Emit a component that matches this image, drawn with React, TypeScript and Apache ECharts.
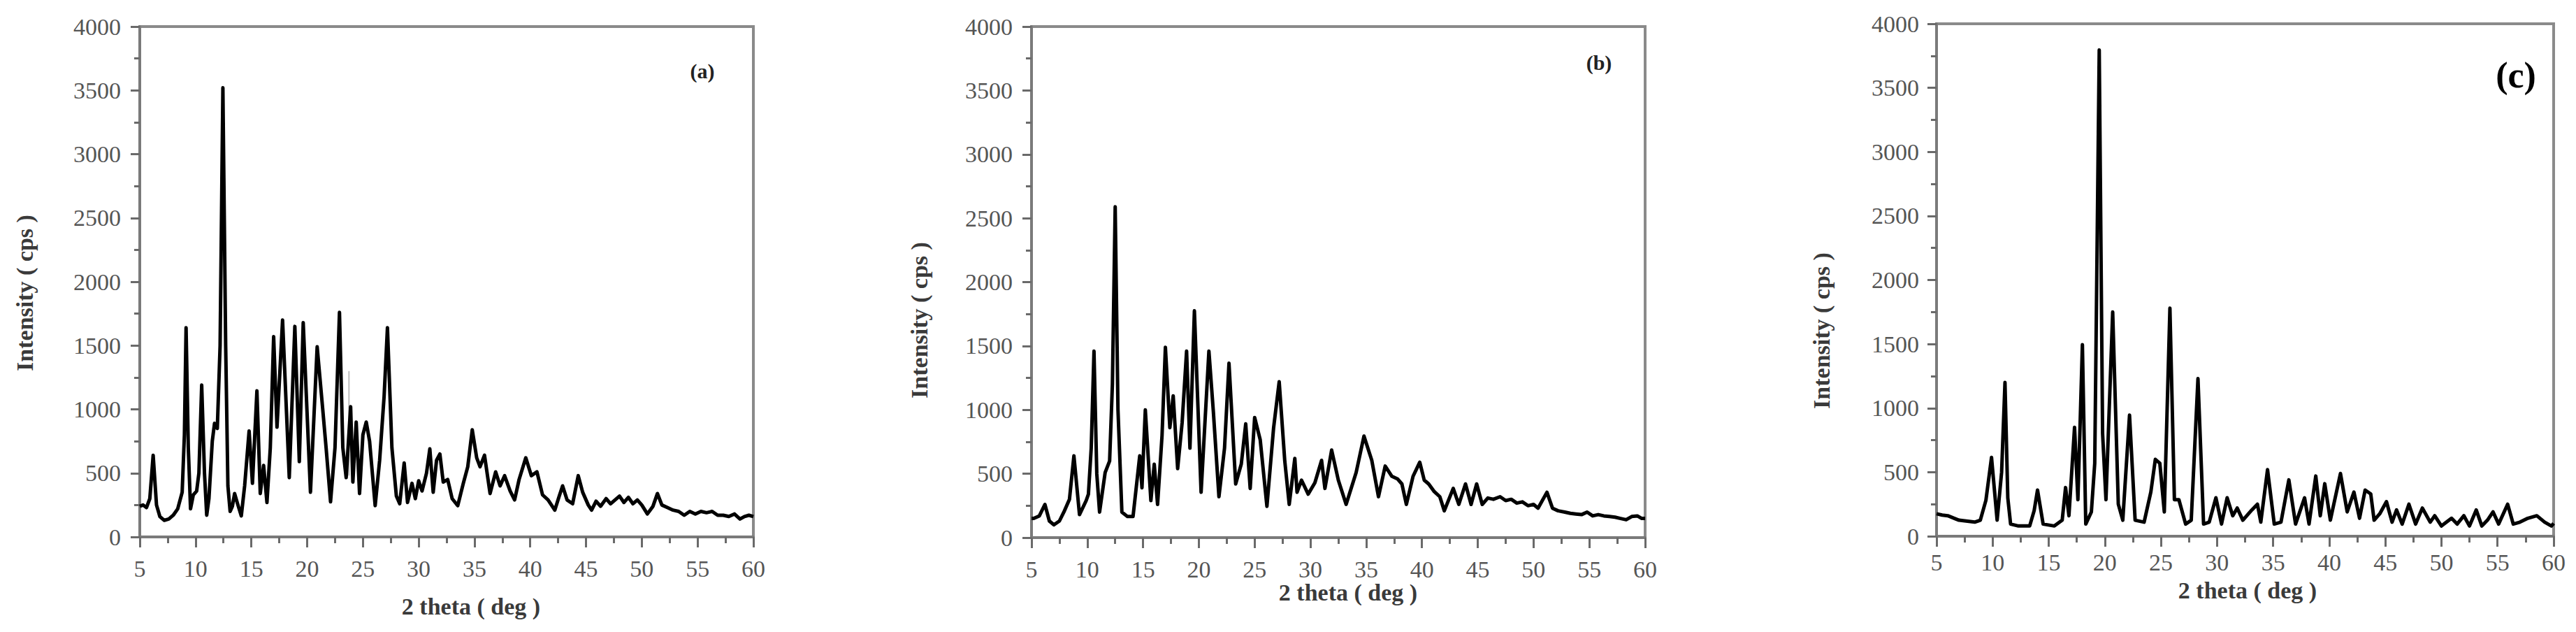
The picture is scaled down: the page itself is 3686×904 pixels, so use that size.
import React, { useEffect, useRef } from "react";
import * as echarts from "echarts";

// x (2 theta, deg) and intensity (cps)
const patternA: [number, number][] = [
  [5.0, 240], [5.3, 250], [5.6, 230], [5.9, 300], [6.2, 640], [6.5, 250], [6.8, 160], [7.2, 130],
  [7.6, 140], [8.0, 170], [8.4, 220], [8.8, 350], [9.0, 800], [9.15, 1640], [9.35, 700], [9.55, 220],
  [9.8, 330], [10.1, 360], [10.3, 500], [10.55, 1190], [10.8, 500], [11.0, 170], [11.2, 300], [11.5, 750],
  [11.7, 890], [11.95, 850], [12.2, 1500], [12.45, 3520], [12.7, 1500], [12.9, 400], [13.1, 200], [13.3, 240],
  [13.5, 340], [13.8, 250], [14.1, 165], [14.4, 400], [14.8, 830], [15.1, 420], [15.5, 1145], [15.8, 340],
  [16.1, 560], [16.4, 270], [16.7, 700], [17.0, 1570], [17.3, 860], [17.8, 1700], [18.4, 465], [18.9, 1650],
  [19.3, 590], [19.65, 1680], [20.3, 350], [20.9, 1490], [21.4, 1000], [21.7, 700], [22.1, 275], [22.5, 700],
  [22.9, 1760], [23.2, 700], [23.5, 465], [23.9, 1020], [24.1, 430], [24.4, 900], [24.7, 340], [25.0, 800],
  [25.3, 900], [25.6, 750], [26.1, 245], [26.5, 600], [26.9, 1100], [27.2, 1640], [27.6, 700], [28.0, 320],
  [28.3, 260], [28.7, 580], [29.0, 270], [29.4, 420], [29.7, 300], [30.0, 440], [30.3, 360], [30.7, 500],
  [31.0, 690], [31.3, 350], [31.6, 600], [31.9, 650], [32.2, 430], [32.6, 450], [33.0, 300], [33.5, 245],
  [34.0, 420], [34.4, 550], [34.8, 840], [35.2, 620], [35.5, 550], [35.9, 640], [36.4, 340], [36.9, 510],
  [37.3, 400], [37.7, 480], [38.2, 360], [38.6, 290], [39.0, 450], [39.6, 620], [40.1, 480], [40.6, 510],
  [41.1, 330], [41.6, 290], [42.2, 210], [42.6, 320], [42.9, 400], [43.3, 290], [43.8, 260], [44.3, 480],
  [44.7, 350], [45.2, 250], [45.5, 210], [45.9, 280], [46.3, 240], [46.8, 300], [47.2, 260], [47.6, 290],
  [48.0, 320], [48.4, 270], [48.8, 310], [49.2, 260], [49.6, 290], [50.0, 250], [50.5, 180], [51.0, 240],
  [51.4, 340], [51.8, 250], [52.3, 230], [52.8, 210], [53.3, 200], [53.8, 170], [54.3, 200], [54.8, 180],
  [55.3, 200], [55.8, 190], [56.3, 200], [56.8, 170], [57.3, 170], [57.8, 160], [58.3, 180], [58.8, 140],
  [59.2, 160], [59.6, 170], [60.0, 160],
];

const ghostA: [number, number][] = [[23.75, 480], [23.75, 1300]];

const patternB: [number, number][] = [
  [5.0, 150], [5.2, 150], [5.7, 170], [6.2, 260], [6.6, 130], [7.0, 100], [7.5, 130], [7.9, 200],
  [8.4, 300], [8.8, 640], [9.3, 180], [9.9, 290], [10.1, 340], [10.35, 700], [10.6, 1460], [10.85, 500],
  [11.1, 200], [11.6, 510], [12.0, 600], [12.25, 1200], [12.5, 2590], [12.75, 1000], [13.1, 200], [13.6, 165],
  [14.1, 165], [14.7, 640], [14.9, 390], [15.2, 1000], [15.7, 290], [16.0, 575], [16.3, 260], [16.7, 800],
  [17.0, 1490], [17.4, 860], [17.7, 1110], [18.1, 540], [18.5, 900], [18.9, 1460], [19.2, 700], [19.6, 1775],
  [20.2, 355], [20.9, 1460], [21.3, 985], [21.8, 320], [22.3, 700], [22.7, 1365], [23.3, 420], [23.8, 575],
  [24.2, 890], [24.6, 385], [25.0, 940], [25.5, 765], [26.1, 245], [26.7, 860], [27.2, 1220], [27.7, 600],
  [28.1, 260], [28.6, 620], [28.8, 355], [29.2, 450], [29.8, 340], [30.4, 430], [31.0, 605], [31.3, 385],
  [31.9, 685], [32.5, 450], [33.2, 260], [34.1, 510], [34.8, 795], [35.5, 605], [36.1, 320], [36.7, 560],
  [37.3, 480], [37.8, 460], [38.2, 420], [38.6, 260], [39.2, 480], [39.8, 590], [40.2, 450], [40.6, 420],
  [41.1, 360], [41.6, 320], [42.0, 210], [42.8, 385], [43.3, 260], [43.9, 420], [44.4, 260], [44.9, 420],
  [45.4, 260], [45.9, 310], [46.4, 300], [47.0, 320], [47.5, 290], [48.0, 300], [48.5, 270], [49.0, 280],
  [49.5, 250], [50.0, 260], [50.4, 230], [51.2, 355], [51.7, 230], [52.2, 210], [52.8, 200], [53.3, 190],
  [53.8, 185], [54.3, 180], [54.8, 200], [55.3, 170], [55.8, 180], [56.3, 170], [56.8, 165], [57.3, 160],
  [57.8, 150], [58.3, 140], [58.8, 165], [59.3, 170], [59.7, 150], [60.0, 150],
];

const patternC: [number, number][] = [
  [5.0, 175], [5.5, 165], [6.0, 160], [7.0, 125], [8.4, 110], [8.9, 125], [9.4, 280], [9.9, 615],
  [10.4, 125], [10.8, 500], [11.1, 1200], [11.35, 300], [11.6, 95], [12.3, 80], [13.3, 80], [13.7, 200],
  [14.0, 360], [14.5, 95], [15.5, 80], [16.2, 125], [16.5, 380], [16.8, 160], [17.3, 850], [17.6, 285],
  [18.0, 1495], [18.3, 95], [18.8, 190], [19.1, 570], [19.5, 3795], [19.8, 800], [20.1, 285], [20.7, 1750],
  [21.2, 250], [21.6, 125], [22.2, 945], [22.7, 125], [23.5, 110], [24.1, 345], [24.5, 600], [24.9, 570],
  [25.3, 190], [25.8, 1780], [26.2, 285], [26.6, 285], [27.2, 95], [27.7, 125], [28.3, 1230], [28.8, 95],
  [29.3, 110], [29.9, 300], [30.4, 95], [30.9, 300], [31.4, 160], [31.8, 220], [32.3, 125], [33.1, 205],
  [33.6, 250], [33.9, 110], [34.5, 520], [35.1, 95], [35.7, 110], [36.4, 440], [37.0, 95], [37.8, 300],
  [38.2, 95], [38.8, 470], [39.2, 160], [39.6, 410], [40.1, 125], [41.0, 490], [41.6, 190], [42.2, 345],
  [42.7, 140], [43.2, 360], [43.7, 330], [44.0, 125], [44.5, 175], [45.1, 270], [45.6, 110], [46.0, 205],
  [46.5, 95], [47.1, 250], [47.7, 95], [48.3, 220], [49.0, 110], [49.4, 160], [50.0, 80], [50.9, 140],
  [51.4, 95], [52.0, 160], [52.5, 80], [53.1, 205], [53.6, 80], [54.1, 125], [54.6, 190], [55.1, 95],
  [55.9, 250], [56.4, 95], [57.0, 110], [57.7, 140], [58.5, 160], [59.2, 110], [59.8, 80], [60.0, 100],
];

const xTitle = "2 theta ( deg )";
const yTitle = "Intensity ( cps )";
const panelLabels = ["(a)", "(b)", "(c)"];

const SERIF = "Liberation Serif";

export default function App() {
  const ref = useRef<HTMLDivElement>(null);
  useEffect(() => {
    document.body.style.margin = "0";
    const chart = echarts.init(ref.current!, null, { renderer: "svg" });

    const grids = [
      { left: 200, top: 38, width: 878, height: 730 },
      { left: 1476, top: 38, width: 878, height: 731 },
      { left: 2771, top: 34, width: 883, height: 733 },
    ];
    const xLabelMargin = [28, 28, 20];
    const yLabelMargin = [27, 27, 25];

    const axisLine = { show: true, lineStyle: { color: "#7a7a7a", width: 4 } };
    const plain = (v: number) => String(v);

    const xAxes = grids.map((_, i) => ({
      type: "value",
      gridIndex: i,
      min: 5,
      max: 60,
      interval: 5,
      axisLine,
      axisTick: { show: true, inside: false, length: 15, lineStyle: { color: "#6a6a6a", width: 3 } },
      minorTick: { show: true, splitNumber: 2, length: 9, lineStyle: { color: "#6a6a6a", width: 3 } },
      splitLine: { show: false },
      axisLabel: { fontFamily: SERIF, fontSize: 34, color: "#555", margin: xLabelMargin[i], formatter: plain },
    }));
    const yAxes = grids.map((_, i) => ({
      type: "value",
      gridIndex: i,
      min: 0,
      max: 4000,
      interval: 500,
      axisLine,
      axisTick: { show: true, inside: false, length: 13, lineStyle: { color: "#6a6a6a", width: 3 } },
      minorTick: { show: true, splitNumber: 2, length: 8, lineStyle: { color: "#6a6a6a", width: 3 } },
      splitLine: { show: false },
      axisLabel: { fontFamily: SERIF, fontSize: 34, color: "#555", margin: yLabelMargin[i], formatter: plain },
    }));

    const lineSeries = (data: [number, number][], idx: number, color = "#000", width = 5) => ({
      type: "line",
      xAxisIndex: idx,
      yAxisIndex: idx,
      data,
      showSymbol: false,
      symbol: "none",
      lineStyle: { color, width, join: "round" },
      z: color === "#000" ? 3 : 2,
    });

    const xTitlePos = [[674, 867], [1929, 847], [3216, 844]];
    const yTitlePos = [[35, 419], [1315, 458], [2606, 473]];
    const labelPos = [[1005, 101, 30], [2288, 89, 30], [3600, 107, 52]];

    const graphics: any[] = [];
    for (let i = 0; i < 3; i++) {
      graphics.push({
        type: "text",
        x: xTitlePos[i][0],
        y: xTitlePos[i][1],
        style: {
          text: xTitle,
          font: `bold 34px ${SERIF}`,
          fill: "#3a3a3a",
          textAlign: "center",
          textVerticalAlign: "middle",
          align: "center",
          verticalAlign: "middle",
        },
      });
      graphics.push({
        type: "text",
        x: yTitlePos[i][0],
        y: yTitlePos[i][1],
        rotation: Math.PI / 2,
        style: {
          text: yTitle,
          font: `bold 34px ${SERIF}`,
          fill: "#3a3a3a",
          textAlign: "center",
          textVerticalAlign: "middle",
          align: "center",
          verticalAlign: "middle",
        },
      });
      graphics.push({
        type: "text",
        x: labelPos[i][0],
        y: labelPos[i][1],
        style: {
          text: panelLabels[i],
          font: `bold ${labelPos[i][2]}px ${SERIF}`,
          fill: i === 2 ? "#000" : "#222",
          textAlign: "center",
          textVerticalAlign: "middle",
          align: "center",
          verticalAlign: "middle",
        },
      });
    }

    chart.setOption({
      animation: false,
      backgroundColor: "#fff",
      grid: grids.map((g) => ({
        ...g,
        show: true,
        borderColor: "#8a8a8a",
        borderWidth: 4,
        backgroundColor: "transparent",
        containLabel: false,
      })),
      xAxis: xAxes,
      yAxis: yAxes,
      series: [
        lineSeries(ghostA, 0, "#bdbdbd", 2),
        lineSeries(patternA, 0),
        lineSeries(patternB, 1),
        lineSeries(patternC, 2),
      ],
      graphic: graphics,
    });
    return () => chart.dispose();
  }, []);
  return <div ref={ref} style={{ width: 3686, height: 904 }} />;
}
